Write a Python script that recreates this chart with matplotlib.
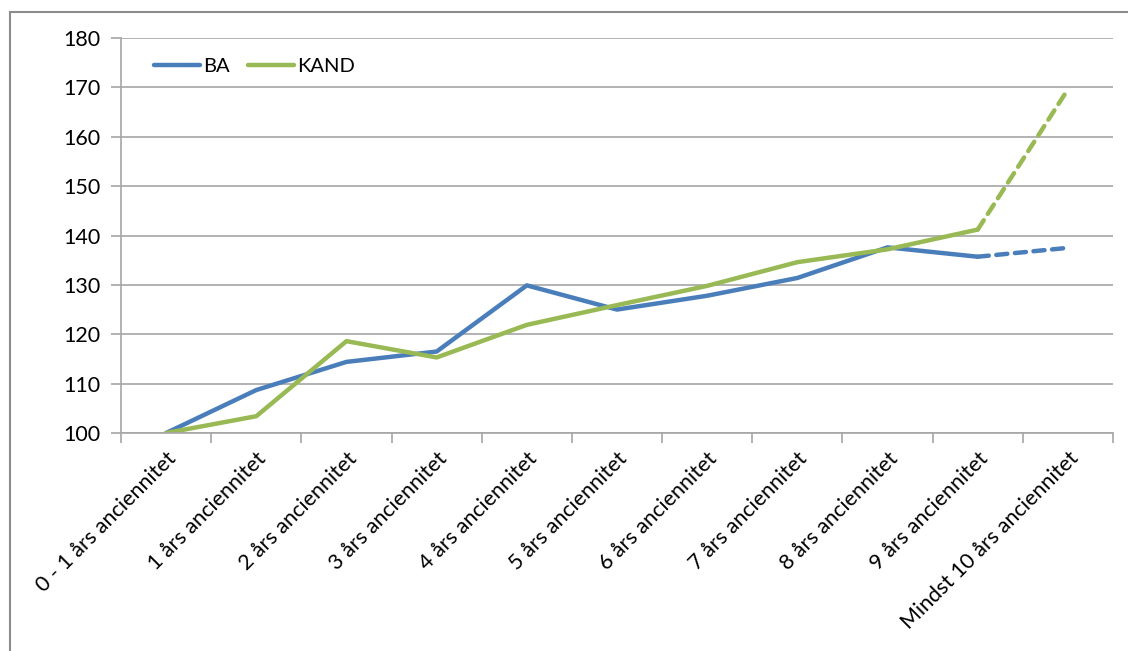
import matplotlib
matplotlib.use("Agg")
from matplotlib import pyplot as plt
from matplotlib.patches import Rectangle

# categories and series
categories = ["0 - 1 års anciennitet", "1 års anciennitet", "2 års anciennitet",
              "3 års anciennitet", "4 års anciennitet", "5 års anciennitet",
              "6 års anciennitet", "7 års anciennitet", "8 års anciennitet",
              "9 års anciennitet", "Mindst 10 års anciennitet"]
ba = [100, 108.7, 114.4, 116.5, 129.9, 125.0, 127.8, 131.4, 137.6, 135.7, 137.5]
kand = [100, 103.4, 118.6, 115.3, 121.9, 125.9, 129.8, 134.6, 137.2, 141.2, 169.6]

plt.rcParams['font.family'] = ['Lato', 'DejaVu Sans']

blue = "#4a7ebb"
green = "#98b954"
grid = "#a6a6a6"
fs = 15.5

fig = plt.figure(figsize=(11.28, 6.51), dpi=100)
# outer chart frame (partly cut off on the right and bottom)
fig.patches.append(Rectangle((10 / 1128, -0.05), 1.2, 1 - 12 / 651 + 0.05,
                             transform=fig.transFigure, fill=False,
                             edgecolor="#8c8c8c", linewidth=1.5))

ax = fig.add_axes([121 / 1128, 1 - 433 / 651, (1113 - 121) / 1128, (433 - 38) / 651])

x = list(range(len(categories)))
n = len(categories) - 1

# solid part, then dashed last segment
ax.plot(x[:n], ba[:n], color=blue, lw=3.2, solid_capstyle="round",
        solid_joinstyle="round", label="BA")
ax.plot(x[:n], kand[:n], color=green, lw=3.2, solid_capstyle="round",
        solid_joinstyle="round", label="KAND")
ax.plot(x[n - 1:], ba[n - 1:], color=blue, lw=3.2, ls=(0, (2.5, 1.7)),
        dash_capstyle="round")
ax.plot(x[n - 1:], kand[n - 1:], color=green, lw=3.2, ls=(0, (2.5, 1.7)),
        dash_capstyle="round")

ax.set_xlim(-0.5, len(categories) - 0.5)
ax.set_ylim(100, 180)
ax.set_yticks(range(100, 181, 10))
ax.set_xticks([i - 0.5 for i in range(len(categories) + 1)], minor=False)
ax.set_xticklabels([])
ax.set_xticks(x, minor=True)
ax.set_xticklabels(categories, minor=True, rotation=45, ha="right",
                   rotation_mode="anchor", fontsize=fs)
ax.tick_params(axis="x", which="minor", length=0, pad=11)
ax.tick_params(axis="x", which="major", length=7, color=grid, width=1.2)
ax.tick_params(axis="y", length=7, color=grid, width=1.2, labelsize=fs, pad=8)

ax.grid(axis="y", color=grid, lw=1.2)
ax.set_axisbelow(True)
for side in ["top", "right"]:
    ax.spines[side].set_visible(False)
for side in ["left", "bottom"]:
    ax.spines[side].set_color(grid)
    ax.spines[side].set_linewidth(1.2)

ax.legend(loc="upper left", bbox_to_anchor=(0.015, 0.995), ncol=2, frameon=False,
          fontsize=14.5, handlelength=2.3, handletextpad=0.15, columnspacing=0.9)

plt.savefig("out.png", dpi=100)
